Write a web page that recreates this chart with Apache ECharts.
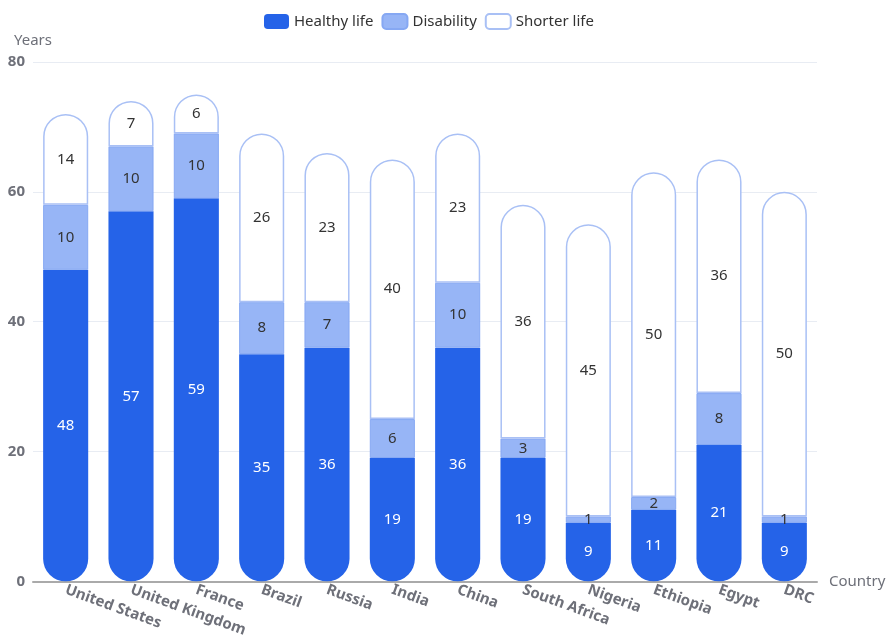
<!DOCTYPE html>
<html>
<head>
<meta charset="utf-8">
<script src="https://cdn.jsdelivr.net/npm/echarts@6/dist/echarts.min.js"></script>
<style>
html, body { margin: 0; padding: 0; background: #fff; }
#main { width: 890px; height: 639px; }
</style>
</head>
<body>
<div id="main"></div>
<script>
var countries = ['United States', 'United Kingdom', 'France', 'Brazil', 'Russia', 'India', 'China', 'South Africa', 'Nigeria', 'Ethiopia', 'Egypt', 'DRC'];
var healthy = [48, 57, 59, 35, 36, 19, 36, 19, 9, 11, 21, 9];
var disability = [10, 10, 10, 8, 7, 6, 10, 3, 1, 2, 8, 1];
var shorter = [14, 7, 6, 26, 23, 40, 23, 36, 45, 50, 36, 50];

var font = '"Noto Sans", sans-serif';
var myChart = echarts.init(document.getElementById('main'));

var option = {
    backgroundColor: '#fff',
    textStyle: { fontFamily: font },
    legend: {
        top: 8,
        left: 259,
        itemWidth: 25,
        itemHeight: 15,
        itemGap: 8,
        icon: 'roundRect',
        textStyle: { fontSize: 15, color: '#333', fontFamily: font },
        data: ['Healthy life', 'Disability', 'Shorter life']
    },
    grid: { left: 33, right: 73, top: 62, bottom: 56 },
    xAxis: {
        type: 'category',
        data: countries,
        name: 'Country',
        nameGap: 12,
        nameTextStyle: { fontSize: 15, color: '#6e7079', fontFamily: font },
        axisLine: { lineStyle: { color: '#aaa', width: 2 } },
        axisTick: { lineStyle: { color: '#aaa' } },
        axisLabel: {
            rotate: -20,
            fontSize: 15,
            fontWeight: 'bold',
            color: '#6e7079',
            margin: 8,
            fontFamily: font
        }
    },
    yAxis: {
        type: 'value',
        name: 'Years',
        min: 0,
        max: 80,
        interval: 20,
        nameGap: 14,
        nameTextStyle: { fontSize: 15, color: '#6e7079', align: 'center', fontFamily: font },
        axisLabel: { fontSize: 15, fontWeight: 'bold', color: '#6e7079', margin: 8, fontFamily: font },
        splitLine: { lineStyle: { color: '#e8ecf3' } }
    },
    series: [
        {
            name: 'Healthy life',
            type: 'bar',
            stack: 'life',
            barWidth: '69%',
            data: healthy,
            itemStyle: { color: '#2563e8', borderRadius: [0, 0, 30, 30] },
            label: { show: true, position: 'inside', color: '#fff', fontSize: 15, fontFamily: font }
        },
        {
            name: 'Disability',
            type: 'bar',
            stack: 'life',
            data: disability,
            itemStyle: { color: '#97b5f6', borderColor: '#86a8f3', borderWidth: 1 },
            label: { show: true, position: 'inside', color: '#333', fontSize: 15, fontFamily: font }
        },
        {
            name: 'Shorter life',
            type: 'bar',
            stack: 'life',
            data: shorter,
            itemStyle: { color: '#fff', borderColor: '#a9c0f5', borderWidth: 1.5, borderRadius: [30, 30, 0, 0] },
            label: { show: true, position: 'inside', color: '#333', fontSize: 15, fontFamily: font }
        }
    ]
};

myChart.setOption(option);
window.addEventListener('resize', function () {
    myChart.resize();
});
</script>
</body>
</html>
